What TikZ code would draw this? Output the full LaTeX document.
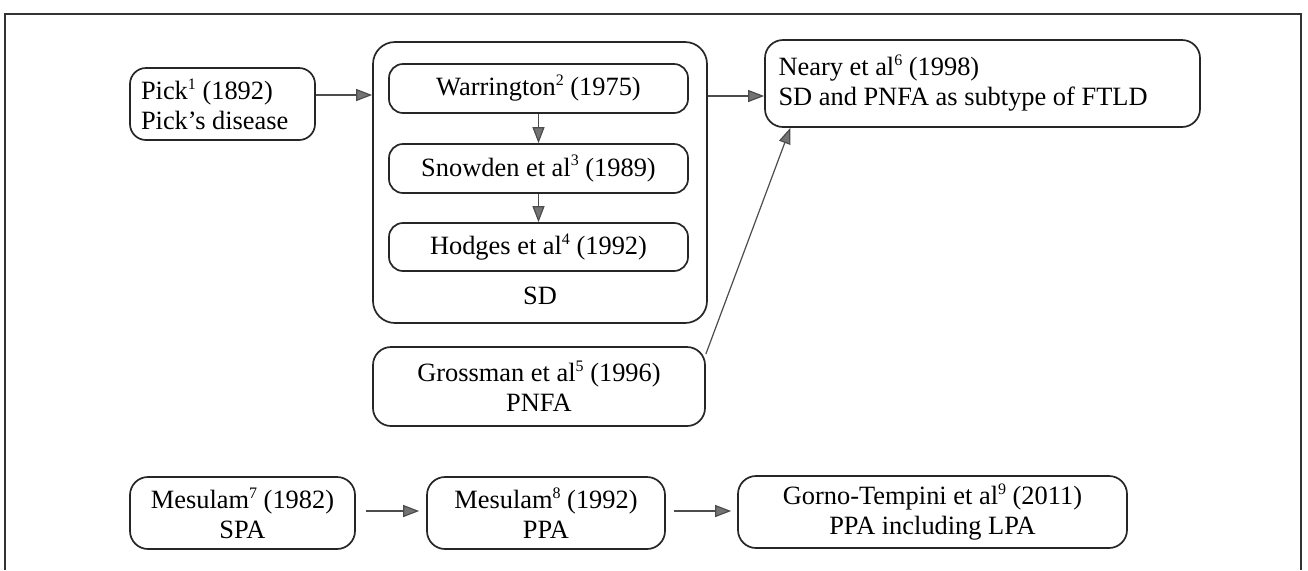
\documentclass[tikz,border=0pt]{standalone}
\usepackage{fontspec}
\setmainfont{Liberation Serif}
\usetikzlibrary{arrows.meta}
\newcommand{\supnum}[1]{\raisebox{0.38em}{\fontsize{8pt}{8pt}\selectfont #1}}
\begin{document}
\begin{tikzpicture}[x=0.5pt,y=-0.5pt,
  every node/.style={font=\fontsize{13.2pt}{15pt}\selectfont},
  box/.style={draw=black!85,line width=0.85pt,rounded corners=7pt,inner sep=0pt,align=center},
  arr/.style={draw=black!70,line width=0.6pt,-{Triangle[length=8pt,width=6pt,fill=black!55]}},
  frame/.style={draw=black!80,line width=0.8pt}]
\useasboundingbox (0,0) rectangle (1308,570);
\draw[frame] (5,570) -- (5,14) -- (1301,14) -- (1301,570);
% top left
\node[box,rounded corners=8pt,minimum width=92.5pt,minimum height=36pt,text width=81.5pt,inner xsep=5.5pt,align=flush left] (pick) at (222.5,104) {Pick\supnum{1} (1892)\\Pick’s disease};
\node[box,rounded corners=11pt,minimum width=167pt,minimum height=140.5pt] (sd) at (540,182.5) {};
\node[box,minimum width=149.5pt,minimum height=24.5pt] (warr) at (538.5,88.5) {Warrington\supnum{2} (1975)};
\node[box,minimum width=149.5pt,minimum height=24.5pt] (snow) at (538.5,168.5) {Snowden et al\supnum{3} (1989)};
\node[box,minimum width=149.5pt,minimum height=24pt] (hodg) at (538.5,247) {Hodges et al\supnum{4} (1992)};
\node (sdlabel) at (540,296) {SD};
\node[box,rounded corners=9pt,minimum width=217.5pt,minimum height=43.5pt,text width=204pt,inner xsep=6.5pt,align=flush left] (neary) at (982.5,83.5) {Neary et al\supnum{6} (1998)\\SD and PNFA as subtype of FTLD};
\node[box,rounded corners=9pt,minimum width=166pt,minimum height=39.5pt] (gross) at (539,386.5) {Grossman et al\supnum{5} (1996)\\PNFA};
% bottom row
\node[box,rounded corners=9pt,minimum width=112.5pt,minimum height=36pt] (mes7) at (242.5,513) {Mesulam\supnum{7} (1982)\\SPA};
\node[box,rounded corners=9pt,minimum width=119pt,minimum height=36pt] (mes8) at (546,513) {Mesulam\supnum{8} (1992)\\PPA};
\node[box,rounded corners=9pt,minimum width=194.5pt,minimum height=36pt] (gorno) at (932.5,512) {Gorno-Tempini et al\supnum{9} (2011)\\PPA including LPA};
% connectors
\coordinate (c1) at (0,95);
\coordinate (c2) at (0,96);
\coordinate (c3) at (0,511);
\draw[arr] (pick.east |- c1) -- (sd.west |- c1);
\draw[arr] (warr.south) -- (snow.north);
\draw[arr] (snow.south) -- (hodg.north);
\draw[arr] (sd.east |- c2) -- (neary.west |- c2);
\draw[arr] (gross.11.5) -- (neary.193.3);
\draw[arr,shorten <=5pt,shorten >=3.5pt] (mes7.east |- c3) -- (mes8.west |- c3);
\draw[arr,shorten <=4pt,shorten >=3pt] (mes8.east |- c3) -- (gorno.west |- c3);
\end{tikzpicture}
\end{document}
